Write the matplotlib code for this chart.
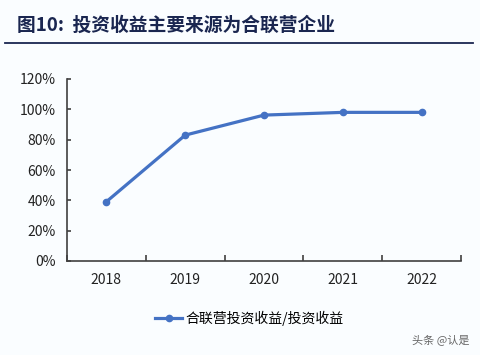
import numpy as np
import matplotlib.pyplot as plt
from matplotlib.ticker import FixedLocator

plt.rcParams['font.family'] = ['Noto Sans CJK SC', 'DejaVu Sans']

years = ['2018', '2019', '2020', '2021', '2022']
ratio = [39.1, 83.0, 96.2, 98.0, 98.0]
series_name = '合联营投资收益/投资收益'
title = '图10:  投资收益主要来源为合联营企业'

bg = '#fafdff'
blue = '#4472c4'
axis_col = '#404040'

fig = plt.figure(figsize=(4.8, 3.55), dpi=100, facecolor=bg)
ax = fig.add_axes([67 / 480, 1 - 261 / 355, 394 / 480, 182 / 355], facecolor=bg)

x = np.arange(len(years))
ax.plot(x, ratio, color=blue, lw=2.3, marker='o', ms=4.5, label=series_name)

ax.set_xlim(-0.5, len(years) - 0.5)
ax.set_ylim(0, 120)
ax.set_yticks(np.arange(0, 121, 20))
ax.set_yticklabels([f'{v}%' for v in range(0, 121, 20)])
ax.set_xticks(x)
ax.set_xticklabels(years)
ax.xaxis.set_minor_locator(FixedLocator(np.arange(-0.5, len(years), 1)))

for s in ['top', 'right']:
    ax.spines[s].set_visible(False)
for s in ['left', 'bottom']:
    ax.spines[s].set_color(axis_col)
    ax.spines[s].set_linewidth(1.2)

ax.tick_params(axis='y', direction='in', length=3, width=1.2, color=axis_col,
               labelsize=10, labelcolor='#222222', pad=8)
ax.tick_params(axis='x', which='major', length=0, labelsize=10,
               labelcolor='#222222', pad=9)
ax.tick_params(axis='x', which='minor', direction='in', length=4, width=1.2,
               color=axis_col)

fig.text(17 / 480, 1 - 25 / 355, title, fontsize=13.5, fontweight='bold',
         color='#1a2650', ha='left', va='center')
fig.add_artist(plt.Line2D([5 / 480, 473 / 480], [1 - 43 / 355, 1 - 43 / 355],
                          color='#1a2650', lw=1.3))

fig.legend(loc='center', bbox_to_anchor=(249 / 480, 1 - 318 / 355), frameon=False,
           fontsize=10, handlelength=2.0, handletextpad=0.2)

fig.text(470 / 480, 1 - 340 / 355, '头条 @认是', fontsize=8, color='#666666',
         ha='right', va='center')

fig.savefig('out.png', dpi=100, facecolor=bg)
